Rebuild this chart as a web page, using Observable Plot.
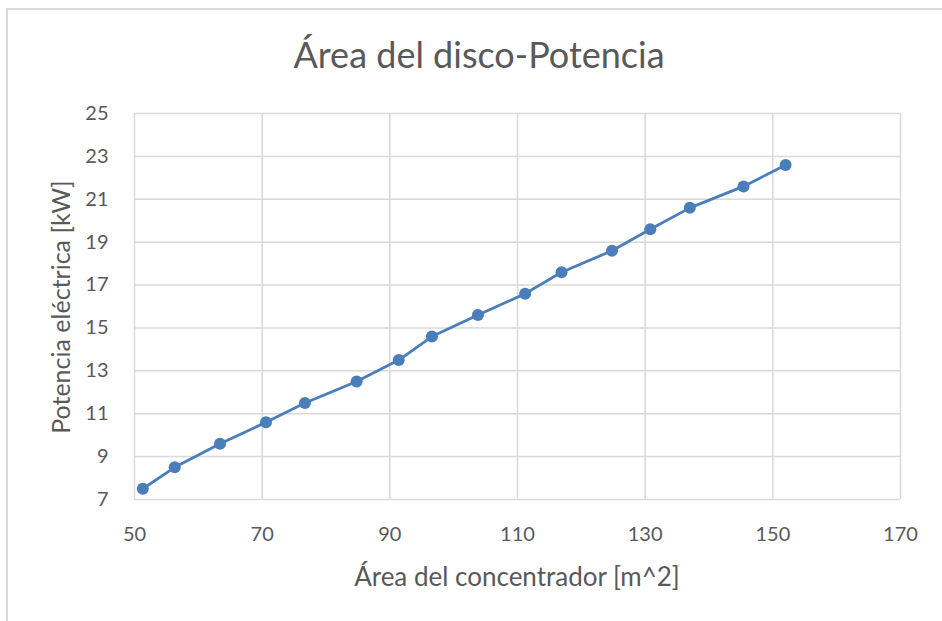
<!DOCTYPE html>
<html>
<head>
<meta charset="utf-8">
<script src="https://cdn.jsdelivr.net/npm/d3@7"></script>
<script src="https://cdn.jsdelivr.net/npm/@observablehq/plot@0.6"></script>
<style>
  html, body { margin: 0; padding: 0; background: #fff; }
  #chart { position: relative; width: 942px; height: 621px; overflow: hidden; font-family: Lato, "Open Sans", sans-serif; }
  #frame { position: absolute; left: 6px; top: 8px; width: 1000px; height: 700px; border-left: 2px solid #d9d9d9; border-top: 2px solid #d9d9d9; box-sizing: border-box; }
  #title { position: absolute; left: 0; width: 958px; top: 33px; line-height: 1.2; text-align: center; font-size: 36px; color: #595959; }
  #xtitle { position: absolute; left: 134px; width: 766px; top: 561px; line-height: 1.2; text-align: center; font-size: 26px; color: #595959; }
  #ytitle { position: absolute; left: 60px; top: 307px; line-height: 1.2; transform: translate(-50%, -50%) rotate(-90deg); white-space: nowrap; font-size: 25px; color: #595959; }
  #plot { position: absolute; left: 0; top: 0; }
</style>
</head>
<body>
<div id="chart">
  <div id="frame"></div>
  <div id="plot"></div>
  <div id="title">Área del disco-Potencia</div>
  <div id="xtitle">Área del concentrador [m^2]</div>
  <div id="ytitle">Potencia eléctrica [kW]</div>
</div>
<script>
// Concentrator area (m^2) and electrical power output (kW)
const area = [51.3, 56.3, 63.4, 70.6, 76.7, 84.8, 91.4, 96.6, 103.8, 111.2, 116.9, 124.8, 130.8, 137.0, 145.4, 152.0];
const potencia = [7.5, 8.5, 9.6, 10.6, 11.5, 12.5, 13.5, 14.6, 15.6, 16.6, 17.6, 18.6, 19.6, 20.6, 21.6, 22.6];
const xTicks = [50, 70, 90, 110, 130, 150, 170];
const yTicks = [7, 9, 11, 13, 15, 17, 19, 21, 23, 25];

const data = area.map((a, i) => ({area: a, potencia: potencia[i]}));
const blue = "#4a7ebb";

const chart = Plot.plot({
  width: 942,
  height: 621,
  marginLeft: 134,
  marginRight: 42,
  marginTop: 113,
  marginBottom: 122,
  style: {background: "transparent", fontFamily: "Lato, 'Open Sans', sans-serif", fontSize: "20px", color: "#595959"},
  x: {domain: [50, 170], ticks: xTicks},
  y: {domain: [7, 25], ticks: yTicks},
  marks: [
    Plot.gridX(xTicks, {stroke: "#d9d9d9", strokeOpacity: 1, strokeWidth: 1.5}),
    Plot.gridY(yTicks, {stroke: "#d9d9d9", strokeOpacity: 1, strokeWidth: 1.5}),
    Plot.axisX(xTicks, {tickSize: 0, tickPadding: 27, label: null, fill: "#595959"}),
    Plot.axisY(yTicks, {tickSize: 0, tickPadding: 26, label: null, fill: "#595959"}),
    Plot.line(data, {x: "area", y: "potencia", stroke: blue, strokeWidth: 2.8}),
    Plot.dot(data, {x: "area", y: "potencia", fill: blue, r: 6})
  ]
});
document.getElementById("plot").appendChild(chart);
</script>
</body>
</html>
